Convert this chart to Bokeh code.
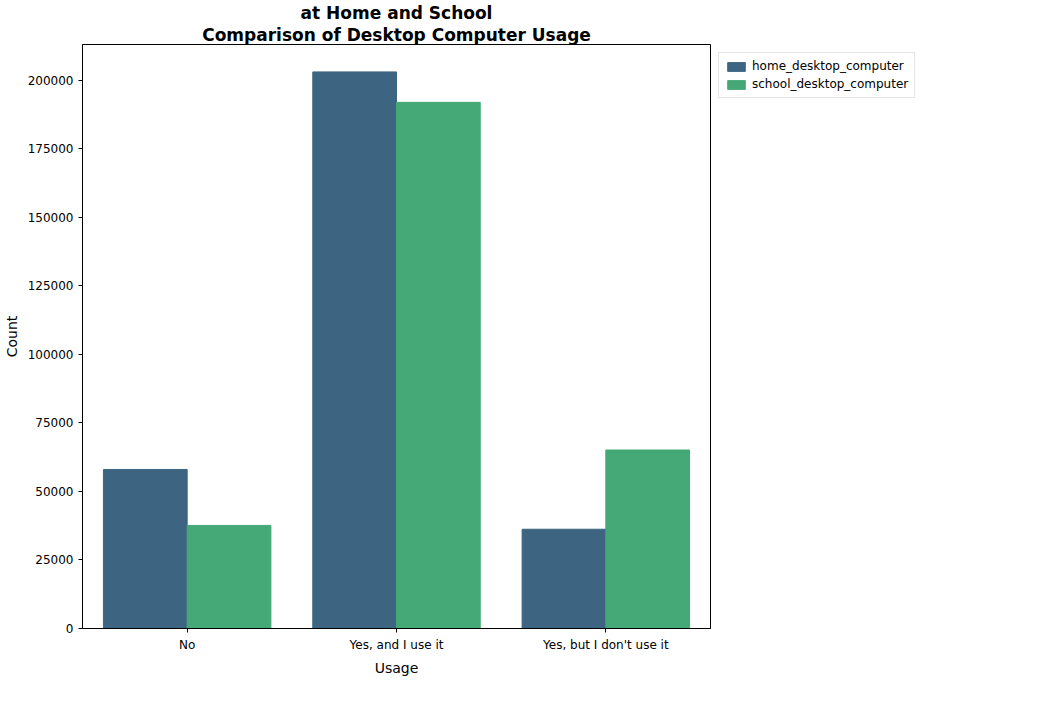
from bokeh.plotting import figure
from bokeh.models import Legend, LegendItem, FixedTicker, NumeralTickFormatter, Range1d, Title
from bokeh.transform import dodge
from bokeh.embed import file_html
from bokeh.resources import INLINE

# data
usage = ["No", "Yes, and I use it", "Yes, but I don't use it"]
home_desktop = [58000, 203000, 36200]
school_desktop = [37600, 191900, 65100]
y_ticks = [0, 25000, 50000, 75000, 100000, 125000, 150000, 175000, 200000]

FONT = "DejaVu Sans"

p = figure(x_range=usage, y_range=Range1d(0, 213000),
           frame_width=628, frame_height=584,
           output_backend="svg", toolbar_location=None,
           title="at Home and School",
           x_axis_label="Usage", y_axis_label="Count")
p.min_border_left = 50
p.min_border_right = 10
p.min_border_top = 4

r1 = p.vbar(x=dodge("x", -0.2, range=p.x_range), top="top", width=0.4,
            source=dict(x=usage, top=home_desktop), color="#3d6582")
r2 = p.vbar(x=dodge("x", 0.2, range=p.x_range), top="top", width=0.4,
            source=dict(x=usage, top=school_desktop), color="#45a877")

t1 = Title(text="Comparison of Desktop Computer Usage")
p.add_layout(t1, "above")
for t in (p.title, t1):
    t.text_font = FONT
    t.text_font_size = "17px"
    t.align = "center"
    t.text_font_style = "bold"
    t.text_color = "black"
    t.standoff = 0
    t.offset = 0

p.xgrid.visible = False
p.ygrid.visible = False
p.outline_line_color = "black"
p.outline_line_width = 1

for ax in (p.xaxis[0], p.yaxis[0]):
    ax.axis_label_text_font = FONT
    ax.axis_label_text_font_size = "14px"
    ax.axis_label_text_font_style = "normal"
    ax.axis_label_text_color = "black"
    ax.major_label_text_font = FONT
    ax.major_label_text_font_size = "12px"
    ax.major_label_text_color = "black"
    ax.axis_line_color = "black"
    ax.major_tick_line_color = "black"
    ax.minor_tick_line_color = None
    ax.major_tick_out = 4
    ax.major_tick_in = 0

p.yaxis.ticker = FixedTicker(ticks=y_ticks)
p.yaxis.formatter = NumeralTickFormatter(format="0")

legend = Legend(items=[LegendItem(label="home_desktop_computer", renderers=[r1]),
                       LegendItem(label="school_desktop_computer", renderers=[r2])],
                location="top_left")
legend.label_text_font = FONT
legend.label_text_font_size = "12px"
legend.label_text_color = "black"
legend.border_line_color = "#cccccc"
legend.glyph_width = 22
legend.glyph_height = 11
legend.spacing = 4
legend.padding = 6
legend.margin = 8
p.add_layout(legend, "right")

open("out.html", "w").write(file_html(p, INLINE))
